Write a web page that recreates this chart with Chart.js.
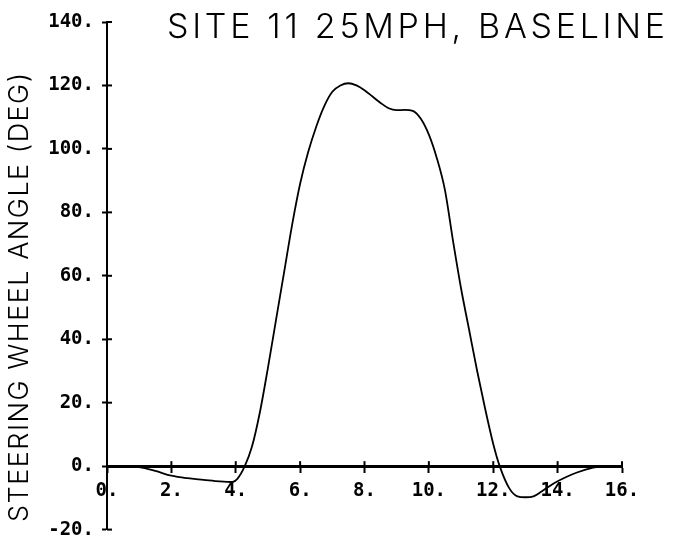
<!DOCTYPE html>
<html><head><meta charset="utf-8">
<script src="https://cdn.jsdelivr.net/npm/chart.js@4"></script>
<style>html,body{margin:0;padding:0;background:#fff}#wrap{width:685px;height:549px}</style>
</head><body><div id="wrap"><canvas id="c" width="685" height="549"></canvas></div>
<script>
const chartTitle = 'SITE 11 25MPH, BASELINE';
const yAxisTitle = 'STEERING WHEEL ANGLE (DEG)';
const timeSec = [0, 0.5, 1, 1.5, 2, 2.5, 3, 3.5, 3.9, 4.05, 4.28, 4.5, 4.75, 5.0, 5.25, 5.5, 5.75, 6.0, 6.25, 6.5, 6.75, 7.0, 7.25, 7.5, 7.75, 8.0, 8.25, 8.5, 8.75, 9.0, 9.25, 9.5, 9.75, 10.0, 10.25, 10.5, 10.75, 11.0, 11.25, 11.5, 11.75, 12.0, 12.2, 12.5, 12.75, 13.0, 13.25, 13.5, 13.85, 14.25, 14.6, 15.1, 15.5, 16];
const steeringDeg = [0, 0, -0.3, -1.5, -3, -3.8, -4.3, -4.8, -5, -4, 0, 6, 17, 31, 46, 61, 76, 89, 99, 107, 113.5, 118, 120, 120.7, 120, 118.5, 116.5, 114.5, 112.8, 112.2, 112.3, 112, 109.5, 104.5, 97, 87, 71, 56, 43, 30, 18, 7, 0, -7, -9.5, -9.8, -9.5, -8, -5.6, -3.5, -2, -0.5, 0, 0];
const xTickLabels = ['0.', '2.', '4.', '6.', '8.', '10.', '12.', '14.', '16.'];
const yTickLabels = ['-20.', '0.', '20.', '40.', '60.', '80.', '100.', '120.', '140.'];

const FONT = '"DejaVu Sans Mono", "Liberation Mono", monospace';
const LIGHT = 'Inter, "DejaVu Sans", sans-serif';

function fitText(ctx, text, width) {
  ctx.letterSpacing = '0px';
  const w = ctx.measureText(text).width;
  const sp = (width - w) / (text.length - 1);
  ctx.letterSpacing = sp.toFixed(2) + 'px';
}

const textPlugin = {
  id: 'plotterText',
  afterDraw(chart) {
    const ctx = chart.ctx;
    ctx.save();
    ctx.fillStyle = '#000';
    ctx.font = '300 34px ' + LIGHT;
    ctx.textAlign = 'left';
    ctx.textBaseline = 'alphabetic';
    fitText(ctx, chartTitle, 498);
    ctx.fillText(chartTitle, 167, 38);
    ctx.translate(28, 522);
    ctx.rotate(-Math.PI / 2);
    ctx.font = '300 27px ' + LIGHT;
    fitText(ctx, yAxisTitle, 449);
    ctx.textAlign = 'left';
    ctx.fillText(yAxisTitle, 0, 0);
    ctx.restore();
    // inner half of the cross-shaped tick marks
    const xs = chart.scales.x, ys = chart.scales.y;
    ctx.save();
    ctx.strokeStyle = '#000';
    ctx.lineWidth = 2;
    const x0 = xs.getPixelForValue(0);
    ys.ticks.forEach(t => {
      const py = ys.getPixelForValue(t.value);
      ctx.beginPath(); ctx.moveTo(x0, py); ctx.lineTo(x0 + 5, py); ctx.stroke();
    });
    const y0 = ys.getPixelForValue(0);
    xs.ticks.forEach(t => {
      const px = xs.getPixelForValue(t.value);
      ctx.beginPath(); ctx.moveTo(px, y0); ctx.lineTo(px, y0 - 5); ctx.stroke();
    });
    ctx.restore();
  }
};

new Chart(document.getElementById('c'), {
  type: 'line',
  data: {
    datasets: [{
      data: timeSec.map((t, i) => ({ x: t, y: steeringDeg[i] })),
      borderColor: '#000',
      borderWidth: 1.8,
      pointRadius: 0,
      fill: false,
      cubicInterpolationMode: 'monotone'
    }]
  },
  options: {
    responsive: false,
    devicePixelRatio: 1,
    animation: false,
    layout: { padding: { top: 22, right: 63, bottom: 13, left: 0 } },
    plugins: { legend: { display: false }, title: { display: false }, tooltip: { enabled: false } },
    scales: {
      x: {
        type: 'linear',
        position: { y: 0 },
        min: 0, max: 16,
        grid: { drawOnChartArea: false, tickLength: 5, tickWidth: 2, tickColor: '#000' },
        border: { display: true, color: '#000', width: 3 },
        ticks: {
          stepSize: 2,
          padding: 9,
          color: '#000',
          font: { family: FONT, size: 19, weight: 'bold' },
          callback: (v) => xTickLabels[Math.round(v / 2)]
        }
      },
      y: {
        type: 'linear',
        min: -20, max: 140,
        afterFit(scale) { scale.width = 107; },
        grid: { drawOnChartArea: false, tickLength: 5, tickWidth: 2, tickColor: '#000' },
        border: { display: true, color: '#000', width: 2 },
        ticks: {
          stepSize: 20,
          padding: 8,
          color: '#000',
          font: { family: FONT, size: 19, weight: 'bold' },
          callback: (v) => yTickLabels[Math.round((v + 20) / 20)]
        }
      }
    }
  },
  plugins: [textPlugin]
});
</script>
</body></html>
